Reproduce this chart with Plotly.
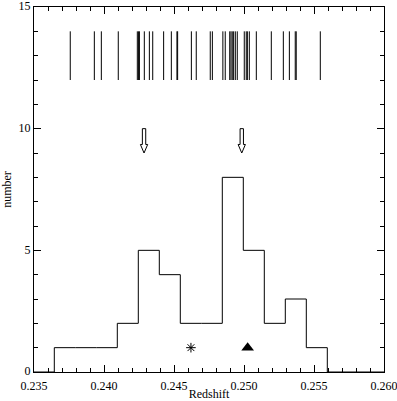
import numpy as np
import plotly.graph_objects as go

# Individual galaxy redshifts (tick marks at top)
redshifts = [0.23759, 0.23931, 0.23981, 0.24102, 0.24238, 0.24247, 0.24253, 0.24288,
             0.24324, 0.24348, 0.24426, 0.24481, 0.24521, 0.24526, 0.24624, 0.24659,
             0.24759, 0.24774, 0.24849, 0.24866, 0.24898, 0.24907, 0.24916, 0.24926,
             0.24938, 0.24952, 0.25002, 0.25016, 0.25024, 0.25038, 0.25088, 0.25195,
             0.25281, 0.25324, 0.25366, 0.25373, 0.25545]

# Histogram
bin_start = 0.23645
bin_width = 0.0015
bin_counts = [1, 1, 1, 2, 5, 4, 2, 2, 8, 5, 2, 3, 1]

# Arrows (redshift positions)
arrow_x = [0.24286, 0.24984]

# Special markers
asterisk_pt = (0.24621, 1.0)
triangle_pt = (0.25026, 1.0)

x_range = [0.235, 0.260]
y_range = [0, 15]

fig = go.Figure()

# tick marks for individual redshifts
tx, ty = [], []
for z in redshifts:
    tx += [z, z, None]
    ty += [12, 14, None]
fig.add_trace(go.Scatter(x=tx, y=ty, mode="lines",
                         line=dict(color="black", width=1), hoverinfo="skip"))

# histogram step line
edges = [bin_start + k * bin_width for k in range(len(bin_counts) + 1)]
hx = [x_range[0]] + edges + [x_range[1]]
hy = [0] + bin_counts + [0, 0]
fig.add_trace(go.Scatter(x=hx, y=hy, mode="lines", line_shape="hv",
                         line=dict(color="black", width=1), hoverinfo="skip"))

# hollow arrows
for ax in arrow_x:
    sw = 0.00012
    hw = 0.00026
    px = [ax - sw, ax + sw, ax + sw, ax + hw, ax, ax - hw, ax - sw, ax - sw]
    py = [10, 10, 9.35, 9.35, 9.0, 9.35, 9.35, 10]
    fig.add_trace(go.Scatter(x=px, y=py, mode="lines", fill="toself",
                             fillcolor="white", line=dict(color="black", width=1),
                             hoverinfo="skip"))

fig.add_trace(go.Scatter(x=[asterisk_pt[0]], y=[asterisk_pt[1]], mode="markers",
                         marker=dict(symbol="asterisk-open", size=8, color="black",
                                     line=dict(color="black", width=1))))
fig.add_trace(go.Scatter(x=[triangle_pt[0]], y=[triangle_pt[1]], mode="markers",
                         marker=dict(symbol="triangle-up", size=11, color="black")))

font = dict(family="Liberation Serif", size=12, color="black")
fig.update_layout(
    width=397, height=401,
    margin=dict(l=34, r=13, t=7, b=29),
    plot_bgcolor="white", paper_bgcolor="white",
    showlegend=False, font=font,
)
fig.update_xaxes(range=x_range, showgrid=False, zeroline=False, automargin=False,
                 showline=True, linecolor="black", linewidth=1, mirror="ticks",
                 ticks="inside", ticklen=7, tickcolor="black", tickwidth=1,
                 ticklabeloverflow="allow", ticklabelstandoff=3,
                 tickvals=[0.235, 0.240, 0.245, 0.250, 0.255, 0.260],
                 ticktext=["0.235", "0.240", "0.245", "0.250", "0.255", "0.260"],
                 minor=dict(dtick=0.001, tick0=0.235, ticks="inside", ticklen=4,
                            tickcolor="black", showgrid=False),
                 title=dict(text="Redshift", standoff=0, font=font))
fig.update_yaxes(range=y_range, showgrid=False, zeroline=False, automargin=False,
                 showline=True, linecolor="black", linewidth=1, mirror="ticks",
                 ticks="inside", ticklen=7, tickcolor="black", tickwidth=1,
                 ticklabeloverflow="allow", ticklabelshift=-1,
                 tickvals=[0, 5, 10, 15], ticktext=["0", "5", "10", "15"],
                 minor=dict(dtick=1, tick0=0, ticks="inside", ticklen=4,
                            tickcolor="black", showgrid=False),
                 title=dict(text="number", standoff=4, font=font))

fig.write_html("out.html",
               config={"displayModeBar": False},
               post_script="document.body.style.margin='0';document.body.style.overflow='hidden';")
